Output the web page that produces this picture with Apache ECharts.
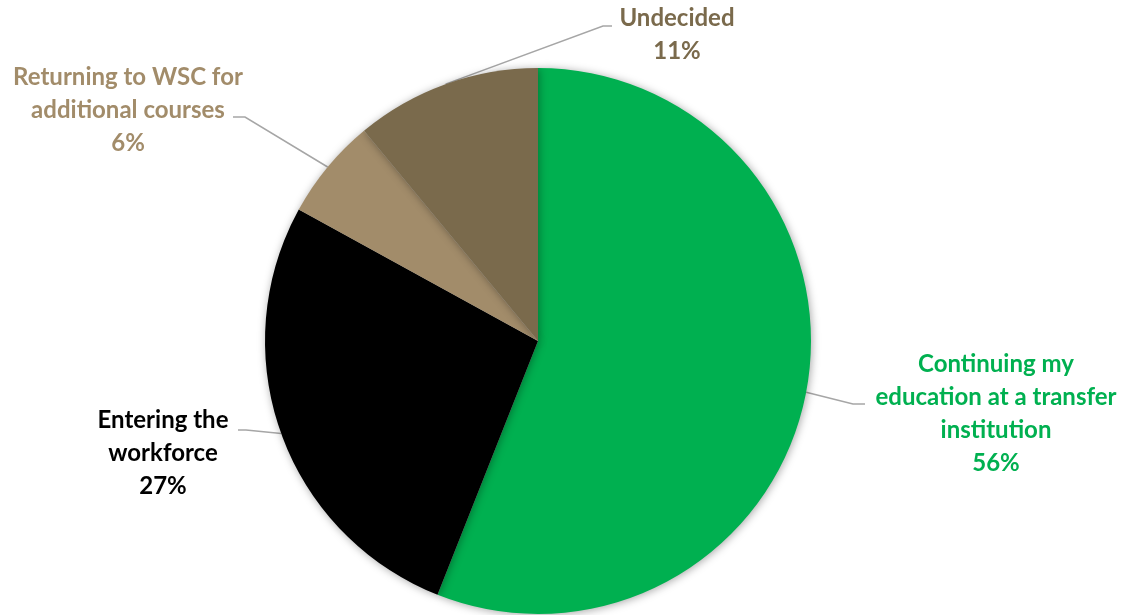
<!DOCTYPE html>
<html><head><meta charset="utf-8">
<script src="https://cdn.jsdelivr.net/npm/echarts@6/dist/echarts.min.js"></script>
<style>html,body{margin:0;padding:0;background:#fff}#c{width:1134px;height:615px}</style>
</head><body><div id="c"></div>
<script>
const categories = ["Continuing my\neducation at a transfer\ninstitution", "Entering the\nworkforce", "Returning to WSC for\nadditional courses", "Undecided"];
const values = [56, 27, 6, 11];
const colors = ["#00B050", "#000000", "#A28C6A", "#7A6A4C"];
const labelColors = ["#00B050", "#000000", "#A28C6A", "#7A6A4C"];
// label centres and guide-line elbow/end points (layout only)
const labelPos = [[996, 414], [163, 453], [128, 110], [677, 35]];
const guidePts = [[[853, 404], [865, 404]], [[246, 430], [238, 430]], [[245, 117], [233, 117]], [[603, 26], [612, 26]]];

const chart = echarts.init(document.getElementById('c'), null, {renderer: 'canvas'});
chart.setOption({
  animation: false,
  series: [{
    type: 'pie',
    center: [538, 341],
    radius: 273,
    startAngle: 90,
    clockwise: true,
    data: categories.map((c, i) => ({
      name: c, value: values[i],
      itemStyle: {color: colors[i]},
      label: {color: labelColors[i]}
    })),
    itemStyle: {shadowBlur: 8, shadowColor: 'rgba(0,0,0,0.35)', shadowOffsetX: 1, shadowOffsetY: 1, borderWidth: 0},
    label: {
      show: true,
      formatter: '{b}\n{d}%',
      fontFamily: 'Lato, "Open Sans", sans-serif',
      fontWeight: 'bold',
      fontSize: 24,
      lineHeight: 33,
      align: 'center'
    },
    labelLine: {show: true, lineStyle: {color: '#A6A6A6', width: 1.5}, length: 20, length2: 10},
    labelLayout: function (p) {
      const i = p.dataIndex;
      const pos = labelPos[i];
      const res = {x: pos[0], y: pos[1], align: 'center', verticalAlign: 'middle'};
      if (p.labelLinePoints && p.labelLinePoints.length) {
        res.labelLinePoints = [p.labelLinePoints[0].slice(), guidePts[i][0], guidePts[i][1]];
      }
      return res;
    }
  }]
});
</script></body></html>
